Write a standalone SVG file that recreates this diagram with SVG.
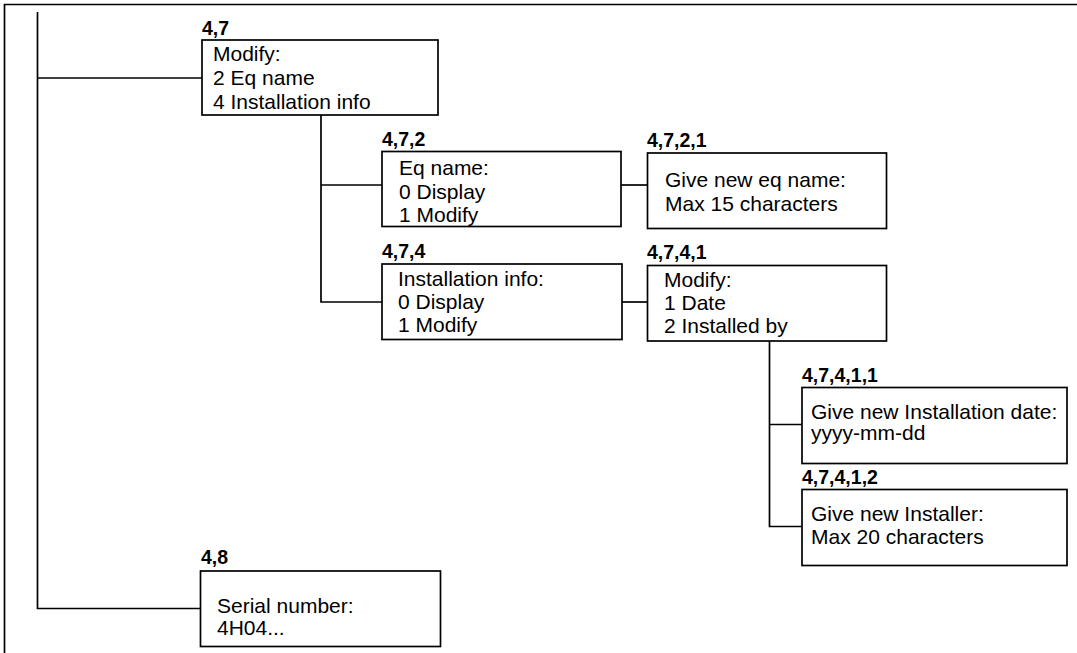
<svg xmlns="http://www.w3.org/2000/svg" width="1077" height="653" viewBox="0 0 1077 653">
<style>
.box{fill:#fff;stroke:#000;stroke-width:1.7}
.ln{fill:none;stroke:#000;stroke-width:1.7}
.t{font-family:"Liberation Sans",Arial,sans-serif;font-size:21px;fill:#000}
.lb{font-family:"Liberation Sans",Arial,sans-serif;font-size:19.5px;font-weight:bold;fill:#000}
</style>
<rect width="1077" height="653" fill="#fff"/>
<g id="frame" class="ln">
<path d="M4.5,653 V4.5 H1077"/>
</g>
<g id="connectors" class="ln">
<path d="M37.5,12 V608.5 H200"/>
<path d="M37.5,78 H202"/>
<path d="M321,115 V302 H382"/>
<path d="M321,185 H382"/>
<path d="M621,185 H647"/>
<path d="M621,302 H647"/>
<path d="M769.5,341 V526.5 H802"/>
<path d="M769.5,424.5 H802"/>
</g>
<g id="n47">
<text class="lb" x="202" y="35">4,7</text>
<rect class="box" x="202" y="40" width="236" height="75"/>
<text class="t" x="213" y="61">Modify:</text>
<text class="t" x="213" y="84.5">2 Eq name</text>
<text class="t" x="213" y="108.5">4 Installation info</text>
</g>
<g id="n472">
<text class="lb" x="382" y="146">4,7,2</text>
<rect class="box" x="382" y="151.5" width="239" height="75"/>
<text class="t" x="399" y="175">Eq name:</text>
<text class="t" x="399" y="199">0 Display</text>
<text class="t" x="399" y="222">1 Modify</text>
</g>
<g id="n474">
<text class="lb" x="382" y="257.5">4,7,4</text>
<rect class="box" x="382" y="264" width="240" height="75.5"/>
<text class="t" x="398" y="285.5">Installation info:</text>
<text class="t" x="398" y="308.5">0 Display</text>
<text class="t" x="398" y="331.5">1 Modify</text>
</g>
<g id="n4721">
<text class="lb" x="647" y="146.5">4,7,2,1</text>
<rect class="box" x="647.5" y="153" width="239" height="75.5"/>
<text class="t" x="665" y="186.5">Give new eq name:</text>
<text class="t" x="665" y="210.5">Max 15 characters</text>
</g>
<g id="n4741">
<text class="lb" x="647" y="259">4,7,4,1</text>
<rect class="box" x="647.5" y="265.5" width="239" height="75.5"/>
<text class="t" x="664" y="286.5">Modify:</text>
<text class="t" x="664" y="310">1 Date</text>
<text class="t" x="664" y="333">2 Installed by</text>
</g>
<g id="n47411">
<text class="lb" x="802" y="381.5">4,7,4,1,1</text>
<rect class="box" x="802" y="387.5" width="265" height="76"/>
<text class="t" x="811" y="418.5">Give new Installation date:</text>
<text class="t" x="811" y="440">yyyy-mm-dd</text>
</g>
<g id="n47412">
<text class="lb" x="802" y="483.5">4,7,4,1,2</text>
<rect class="box" x="802" y="489.5" width="265" height="76"/>
<text class="t" x="811" y="520.5">Give new Installer:</text>
<text class="t" x="811" y="543.5">Max 20 characters</text>
</g>
<g id="n48">
<text class="lb" x="201" y="563.5">4,8</text>
<rect class="box" x="200.5" y="571" width="240" height="75.5"/>
<text class="t" x="217" y="612.5">Serial number:</text>
<text class="t" x="217" y="635">4H04...</text>
</g>
</svg>
